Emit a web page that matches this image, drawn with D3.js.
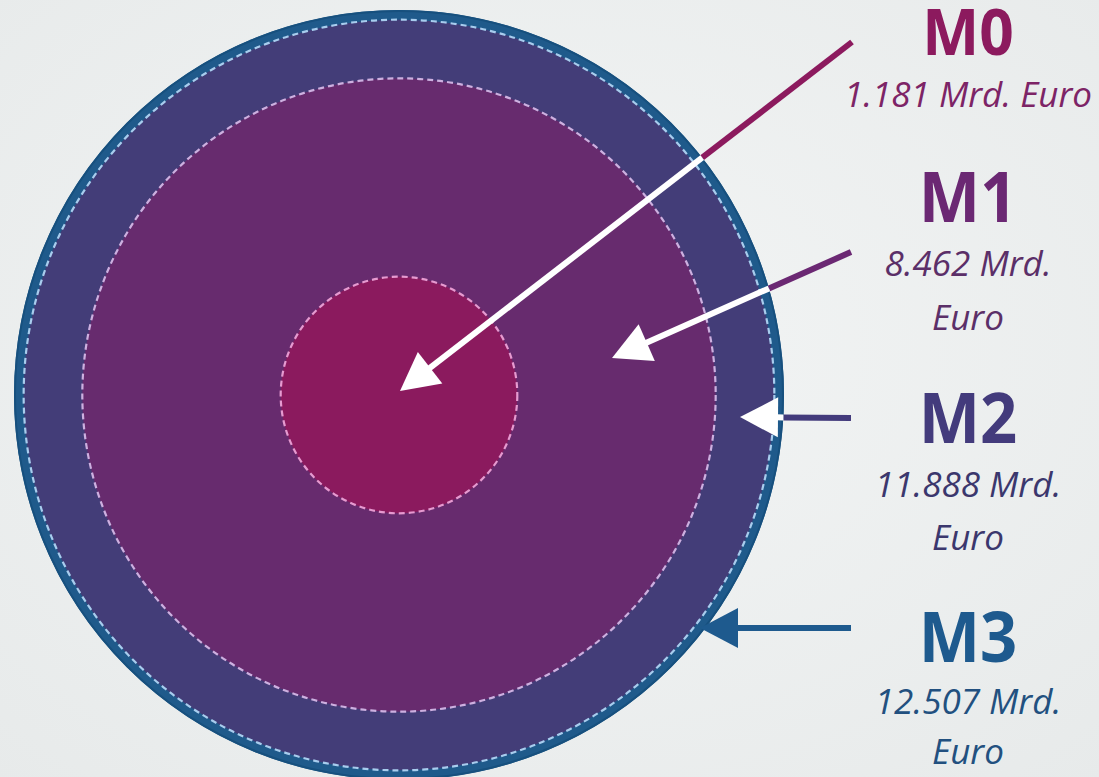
<!DOCTYPE html>
<html>
<head>
<meta charset="utf-8">
<script src="https://cdn.jsdelivr.net/npm/d3@7"></script>
<style>
  html, body { margin: 0; padding: 0; overflow: hidden; background: #edf0f0; }
</style>
</head>
<body>
<div id="chart"></div>
<script>
// money supply aggregates (Mrd. Euro)
const aggregates = ["M0", "M1", "M2", "M3"];
const volumes = [1.181, 8.462, 11.888, 12.507];
const valueLines = [["1.181 Mrd. Euro"], ["8.462 Mrd.", "Euro"], ["11.888 Mrd.", "Euro"], ["12.507 Mrd.", "Euro"]];

const fillColors = ["#8b1a5e", "#672b6e", "#433d78", "#1f5a8b"];
const dashColors = ["#e69ad0", "#cdb0e0", "#a8cdee", null];
const labelColors = ["#8c1a5e", "#6b2873", "#433b7c", "#1e5a8e"];
const valueColors = ["#7d2466", "#5b2f68", "#3b376d", "#22507f"];

const W = 1099, H = 777;
const cx = 399, cy = 395;

// layout for the labels + arrows (annotation positions)
const labelX = 968;
const titleY = [55, 222, 443, 662];
const titleSize = [65, 70, 70, 70];
const valueY = [[107], [276, 330], [497, 550], [714, 764]];
const arrowStart = [[852, 42], [851, 252], [851, 418], [851, 628]];
const arrowTip = [[1, -4], [213, -37], [341, 22], [301, 233]];   // relative to circle centre
const tipInsideWhite = [true, true, true, false];

const rScale = d3.scaleSqrt()
    .domain([0, d3.max(volumes)])
    .range([0, 385]);

const svg = d3.select("#chart")
    .append("svg")
    .attr("width", W)
    .attr("height", H);

// soft background
const defs = svg.append("defs");
const bg = defs.append("radialGradient")
    .attr("id", "bg")
    .attr("cx", "50%").attr("cy", "45%").attr("r", "75%");
bg.append("stop").attr("offset", "0%").attr("stop-color", "#f3f5f5");
bg.append("stop").attr("offset", "100%").attr("stop-color", "#e7eaea");

svg.append("rect")
    .attr("width", W)
    .attr("height", H)
    .attr("fill", "url(#bg)");

const data = aggregates.map((name, i) => ({
    name,
    value: volumes[i],
    i
}));

// circles, biggest first
const circles = svg.append("g")
    .attr("transform", `translate(${cx}, ${cy})`);

const sorted = data.slice().sort((a, b) => b.value - a.value);

circles.selectAll("circle.fill")
    .data(sorted)
    .enter()
    .append("circle")
    .attr("class", "fill")
    .attr("r", d => rScale(d.value))
    .attr("fill", d => fillColors[d.i]);

// darker edge of the outer ring
circles.append("circle")
    .attr("r", rScale(d3.max(volumes)) - 1)
    .attr("fill", "none")
    .attr("stroke", "#17507e")
    .attr("stroke-width", 2);

// dashed borders
circles.selectAll("circle.dash")
    .data(sorted.filter(d => dashColors[d.i]))
    .enter()
    .append("circle")
    .attr("class", "dash")
    .attr("r", d => rScale(d.value))
    .attr("fill", "none")
    .attr("stroke", d => dashColors[d.i])
    .attr("stroke-width", 2.2)
    .attr("stroke-dasharray", "6,4");

// arrows
const R = rScale(d3.max(volumes));
const headLen = 38, headHalf = 20, lineW = 6;

data.forEach(d => {
    const [sx, sy] = arrowStart[d.i];
    const tx = cx + arrowTip[d.i][0], ty = cy + arrowTip[d.i][1];
    const len = Math.hypot(sx - tx, sy - ty);
    const ux = (sx - tx) / len, uy = (sy - ty) / len;
    const bx = tx + ux * headLen, by = ty + uy * headLen;

    // where the shaft crosses the outer circle
    const dx = bx - sx, dy = by - sy;
    const fx = sx - cx, fy = sy - cy;
    const a = dx * dx + dy * dy, b = 2 * (fx * dx + fy * dy), c = fx * fx + fy * fy - R * R;
    const disc = b * b - 4 * a * c;
    let t = 1;
    if (disc >= 0) {
        const t1 = (-b - Math.sqrt(disc)) / (2 * a);
        if (t1 > 0 && t1 < 1) t = t1;
    }
    const px = sx + dx * t, py = sy + dy * t;
    const inner = tipInsideWhite[d.i] ? "#ffffff" : labelColors[d.i];

    const g = svg.append("g");
    g.append("line")
        .attr("x1", sx).attr("y1", sy)
        .attr("x2", px).attr("y2", py)
        .attr("stroke", labelColors[d.i])
        .attr("stroke-width", lineW);
    if (t < 1) {
        g.append("line")
            .attr("x1", px).attr("y1", py)
            .attr("x2", bx - ux).attr("y2", by - uy)
            .attr("stroke", inner)
            .attr("stroke-width", lineW);
    }
    const nx = -uy, ny = ux;
    g.append("polygon")
        .attr("points", [
            [tx, ty],
            [bx + nx * headHalf, by + ny * headHalf],
            [bx - nx * headHalf, by - ny * headHalf]
        ].map(p => p.join(",")).join(" "))
        .attr("fill", inner);
});

// labels
const labels = svg.append("g")
    .style("font-family", "'Open Sans', sans-serif");

data.forEach(d => {
    labels.append("text")
        .attr("transform", `translate(${labelX}, ${titleY[d.i]}) scale(0.93, 1)`)
        .attr("text-anchor", "middle")
        .style("font-weight", 700)
        .style("font-size", titleSize[d.i] + "px")
        .style("fill", labelColors[d.i])
        .text(d.name);

    valueLines[d.i].forEach((line, j) => {
        labels.append("text")
            .attr("x", labelX)
            .attr("y", valueY[d.i][j])
            .attr("text-anchor", "middle")
            .style("font-style", "italic")
            .style("font-size", "35px")
            .style("fill", valueColors[d.i])
            .text(line);
    });
});
</script>
</body>
</html>
